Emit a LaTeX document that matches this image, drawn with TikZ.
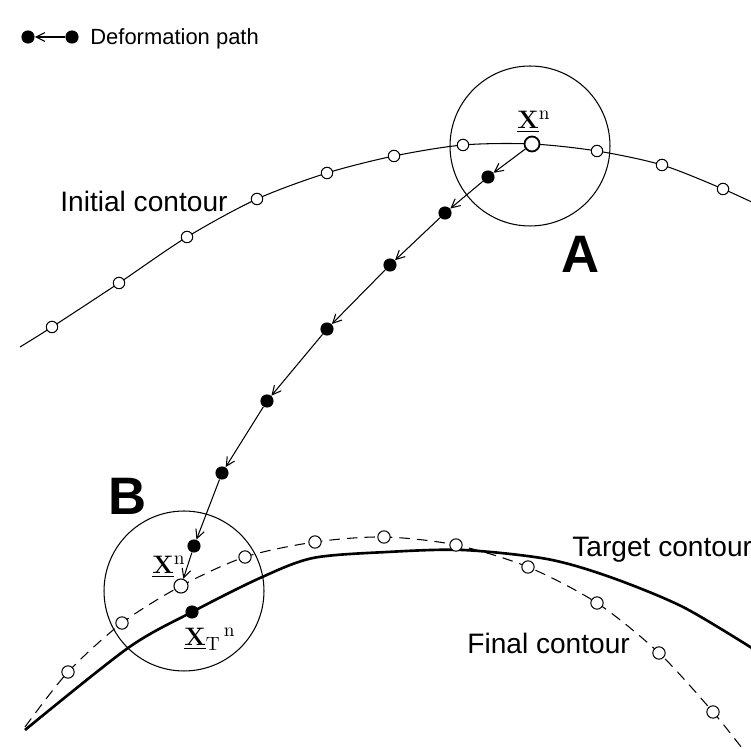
\documentclass[tikz,border=0pt]{standalone}
\usepackage[no-math]{fontspec}
\setmainfont{Liberation Sans}
\usetikzlibrary{arrows.meta}

\begin{document}
\begin{tikzpicture}[
    x=0.02cm, y=-0.02cm,
    >={Straight Barb[length=5pt, width=5pt]},
    contour/.style={line width=0.6pt},
    target/.style={line width=1.5pt},
    final/.style={line width=0.6pt, dash pattern=on 6pt off 4pt},
    opendot/.style={circle, draw, fill=white, line width=0.6pt, inner sep=0pt, minimum size=6.5pt},
    startdot/.style={opendot, line width=1pt, minimum size=8.5pt},
    pathdot/.style={circle, fill=black, inner sep=0pt, minimum size=7.5pt},
    finaldot/.style={opendot, minimum size=7pt,
        path picture={\fill (path picture bounding box.center) circle (0.8pt);}},
    pathseg/.style={line width=0.6pt, ->},
    zone/.style={circle, draw, line width=0.6pt, minimum size=3.2cm, inner sep=0pt},
    lbl/.style={font=\fontsize{16}{19}\selectfont, anchor=base west, inner sep=0pt},
    zonelbl/.style={font=\fontsize{30}{36}\selectfont\bfseries, anchor=base west, inner sep=0pt},
    veclbl/.style={font=\fontsize{15}{18}\selectfont, anchor=base west, inner sep=0pt},
]
\clip (0,0) rectangle (751,749);

% =============================================
% LEGEND
% =============================================
\node[pathdot] (leg-a) at (28,37) {};
\node[pathdot] (leg-b) at (72,37) {};
\draw[pathseg] (leg-b) -- (leg-a);
\node[font=\fontsize{12.5}{15}\selectfont, anchor=base west, inner sep=0pt] (legtxt) at (90,45) {Deformation path};

% =============================================
% ZONES A and B
% =============================================
\node[zone] (zoneA) at (530,146) {};
\node[zone] (zoneB) at (184,591) {};
\node[zonelbl] (albl) at (561,273) {A};
\node[zonelbl] (blbl) at (108,515) {B};

% =============================================
% CONTOURS
% =============================================
% Initial contour
\draw[contour] plot[smooth, tension=0.5] coordinates {(20,347) (52,327) (119,283) (187,237) (257,199) (327,173) (394,156) (463,145) (532,144) (597,151) (662,165) (723,189) (760,206)};
% Target contour
\draw[target] plot[smooth, tension=0.5] coordinates {(25,730) (128,648) (192,612) (260,578) (313,558) (387,552) (463,550) (547,559) (610,577) (683,607) (755,650)};
% Final contour
\draw[final] plot[smooth, tension=0.5] coordinates {(25,727) (68,672) (122,623) (181,586) (245,557) (315,542) (384,537) (456,545) (528,567) (597,603) (659,653) (713,712) (745,752)};

% Contour nodes
\foreach \p [count=\i] in {(52,327),(119,283),(187,237),(257,199),(327,173),(394,156),(463,145),(597,151),(662,165),(723,189)}
  \node[opendot] (ini-\i) at \p {};
\foreach \p [count=\i] in {(68,672),(122,623),(245,557),(315,542),(384,537),(456,545),(528,567),(597,603),(659,653),(713,712)}
  \node[finaldot] (fin-\i) at \p {};

% =============================================
% DEFORMATION PATH
% =============================================
\node[startdot] (xn) at (532,144) {};
\node[pathdot] (d1) at (488,177) {};
\node[pathdot] (d2) at (445,213) {};
\node[pathdot] (d3) at (390,265) {};
\node[pathdot] (d4) at (327,329) {};
\node[pathdot] (d5) at (267,401) {};
\node[pathdot] (d6) at (222,473) {};
\node[pathdot] (d7) at (194,546) {};
\node[finaldot, minimum size=8pt] (xnf) at (181,586) {};
\node[pathdot] (xt) at (192,612) {};

\foreach \a/\b in {xn/d1,d1/d2,d2/d3,d3/d4,d4/d5,d5/d6,d6/d7,d7/xnf}
  \draw[pathseg] (\a) -- (\b);

% Vector labels
\node[veclbl] (xnlbl) at (517,129) {$\underline{\mathbf{X}}^{\mathrm{n}}$};
\node[veclbl] (xnflbl) at (152,574) {$\underline{\mathbf{X}}^{\mathrm{n}}$};
\node[veclbl] (xtlbl) at (184,646) {$\underline{\mathbf{X}}_{\mathrm{T}}{}^{\,\mathrm{n}}$};

% Contour labels
\node[lbl] (initlbl) at (60,212) {Initial contour};
\node[lbl] (targetlbl) at (572,557) {Target contour};
\node[lbl] (finallbl) at (467,654) {Final contour};

\end{tikzpicture}
\end{document}
